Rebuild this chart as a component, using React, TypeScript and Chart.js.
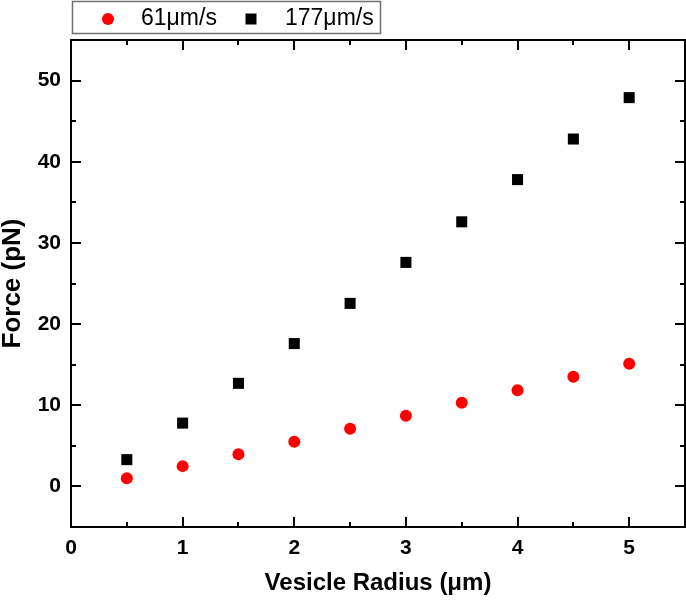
import { useEffect, useRef } from "react";
import { Chart, registerables } from "chart.js";

Chart.register(...registerables);

// vesicle radius (um) and measured force (pN) for the two velocities
const radius = [0.5, 1, 1.5, 2, 2.5, 3, 3.5, 4, 4.5, 5];
const force61 = [1.0, 2.5, 3.95, 5.5, 7.1, 8.7, 10.3, 11.85, 13.5, 15.1];
const force177 = [3.3, 7.8, 12.7, 17.6, 22.55, 27.6, 32.6, 37.8, 42.8, 47.9];

const seriesLabels = ["61\u03bcm/s", "177\u03bcm/s"];
const seriesColors = ["#ff0000", "#000000"];

const xTickLabels = [0, 1, 2, 3, 4, 5];
const yTickLabels = [0, 10, 20, 30, 40, 50];

const FONT = "'Liberation Sans', Arial, sans-serif";

// frame round the plot area, with inward ticks on all four sides
const framePlugin = {
  id: "frame",
  afterDraw(chart: Chart) {
    const ctx = chart.ctx;
    const { left, right, top, bottom } = chart.chartArea;
    const xs = chart.scales.x;
    const ys = chart.scales.y;
    ctx.save();
    ctx.strokeStyle = "#000";
    ctx.lineWidth = 2;
    ctx.beginPath();
    xs.ticks.forEach((t) => {
      const v = t.value;
      if (v <= xs.min || v >= xs.max) return;
      const px = Math.round(xs.getPixelForValue(v));
      const len = xTickLabels.includes(v) ? 10 : 5;
      ctx.moveTo(px, bottom);
      ctx.lineTo(px, bottom - len);
      ctx.moveTo(px, top);
      ctx.lineTo(px, top + len);
    });
    ys.ticks.forEach((t) => {
      const v = t.value;
      if (v <= ys.min || v >= ys.max) return;
      const py = Math.round(ys.getPixelForValue(v));
      const len = yTickLabels.includes(v) ? 10 : 5;
      ctx.moveTo(left, py);
      ctx.lineTo(left + len, py);
      ctx.moveTo(right, py);
      ctx.lineTo(right - len, py);
    });
    ctx.stroke();
    ctx.strokeRect(left, top, right - left, bottom - top);
    ctx.restore();
  },
};

// boxed legend sitting above the top-left of the plot
const legendPlugin = {
  id: "boxLegend",
  afterDraw(chart: Chart) {
    const ctx = chart.ctx;
    const left = chart.chartArea.left;
    ctx.save();
    ctx.strokeStyle = "#707070";
    ctx.lineWidth = 1.5;
    ctx.strokeRect(left + 1.5, 1.5, 308, 32);

    ctx.font = `23px ${FONT}`;
    ctx.textBaseline = "middle";
    ctx.textAlign = "left";

    ctx.fillStyle = seriesColors[0];
    ctx.beginPath();
    ctx.arc(left + 37, 19, 6, 0, Math.PI * 2);
    ctx.fill();
    ctx.fillStyle = "#000";
    ctx.fillText(seriesLabels[0], left + 70, 19);

    ctx.fillStyle = seriesColors[1];
    ctx.fillRect(left + 180 - 5.5, 19 - 5.5, 11, 11);
    ctx.fillStyle = "#000";
    ctx.fillText(seriesLabels[1], left + 214, 19);
    ctx.restore();
  },
};

const ForceChart = () => {
  const canvasRef = useRef<HTMLCanvasElement>(null);

  useEffect(() => {
    if (!canvasRef.current) return;
    const chart = new Chart(canvasRef.current, {
      type: "scatter",
      data: {
        datasets: [
          {
            label: seriesLabels[0],
            data: radius.map((r, i) => ({ x: r, y: force61[i] })),
            pointStyle: "circle",
            pointRadius: 6,
            pointHoverRadius: 6,
            pointBorderWidth: 0,
            backgroundColor: seriesColors[0],
            borderColor: seriesColors[0],
          },
          {
            label: seriesLabels[1],
            data: radius.map((r, i) => ({ x: r, y: force177[i] })),
            pointStyle: "rect",
            pointRadius: 7.8,
            pointHoverRadius: 7.8,
            pointBorderWidth: 0,
            backgroundColor: seriesColors[1],
            borderColor: seriesColors[1],
          },
        ],
      },
      options: {
        animation: false,
        responsive: true,
        maintainAspectRatio: false,
        layout: { autoPadding: false, padding: { top: 40, right: 1, left: 0, bottom: 0 } },
        plugins: {
          legend: { display: false },
          tooltip: { enabled: false },
        },
        scales: {
          x: {
            type: "linear",
            min: 0,
            max: 5.5,
            afterFit: (scale) => {
              scale.height = 77;
            },
            grid: { display: false, drawTicks: false },
            border: { display: false },
            ticks: {
              stepSize: 0.5,
              // tick padding would add room on the right, so the tall line height moves labels down instead
              padding: 0,
              color: "#000",
              font: { family: FONT, size: 21, weight: "bold", lineHeight: 2 },
              callback: (v) => (xTickLabels.includes(Number(v)) ? String(v) : ""),
            },
            title: {
              display: true,
              text: "Vesicle Radius (\u03bcm)",
              color: "#000",
              font: { family: FONT, size: 24, weight: "bold" },
              padding: { top: 0, bottom: 6 },
            },
          },
          y: {
            type: "linear",
            min: -5,
            max: 55,
            afterFit: (scale) => {
              scale.width = 71;
            },
            grid: { display: false, drawTicks: false },
            border: { display: false },
            ticks: {
              stepSize: 5,
              padding: 10,
              color: "#000",
              font: { family: FONT, size: 21, weight: "bold" },
              callback: (v) => (yTickLabels.includes(Number(v)) ? String(v) : ""),
            },
            title: {
              display: true,
              text: "Force (pN)",
              color: "#000",
              font: { family: FONT, size: 26, weight: "bold", lineHeight: 1 },
              padding: { top: 0, bottom: 0 },
            },
          },
        },
      },
      plugins: [framePlugin, legendPlugin],
    });

    return () => {
      chart.destroy();
    };
  }, []);

  return (
    <div style={{ position: "fixed", left: 0, top: 0, width: 686, height: 604, background: "#fff" }}>
      <canvas ref={canvasRef} />
    </div>
  );
};

export default function App() {
  return <ForceChart />;
}
